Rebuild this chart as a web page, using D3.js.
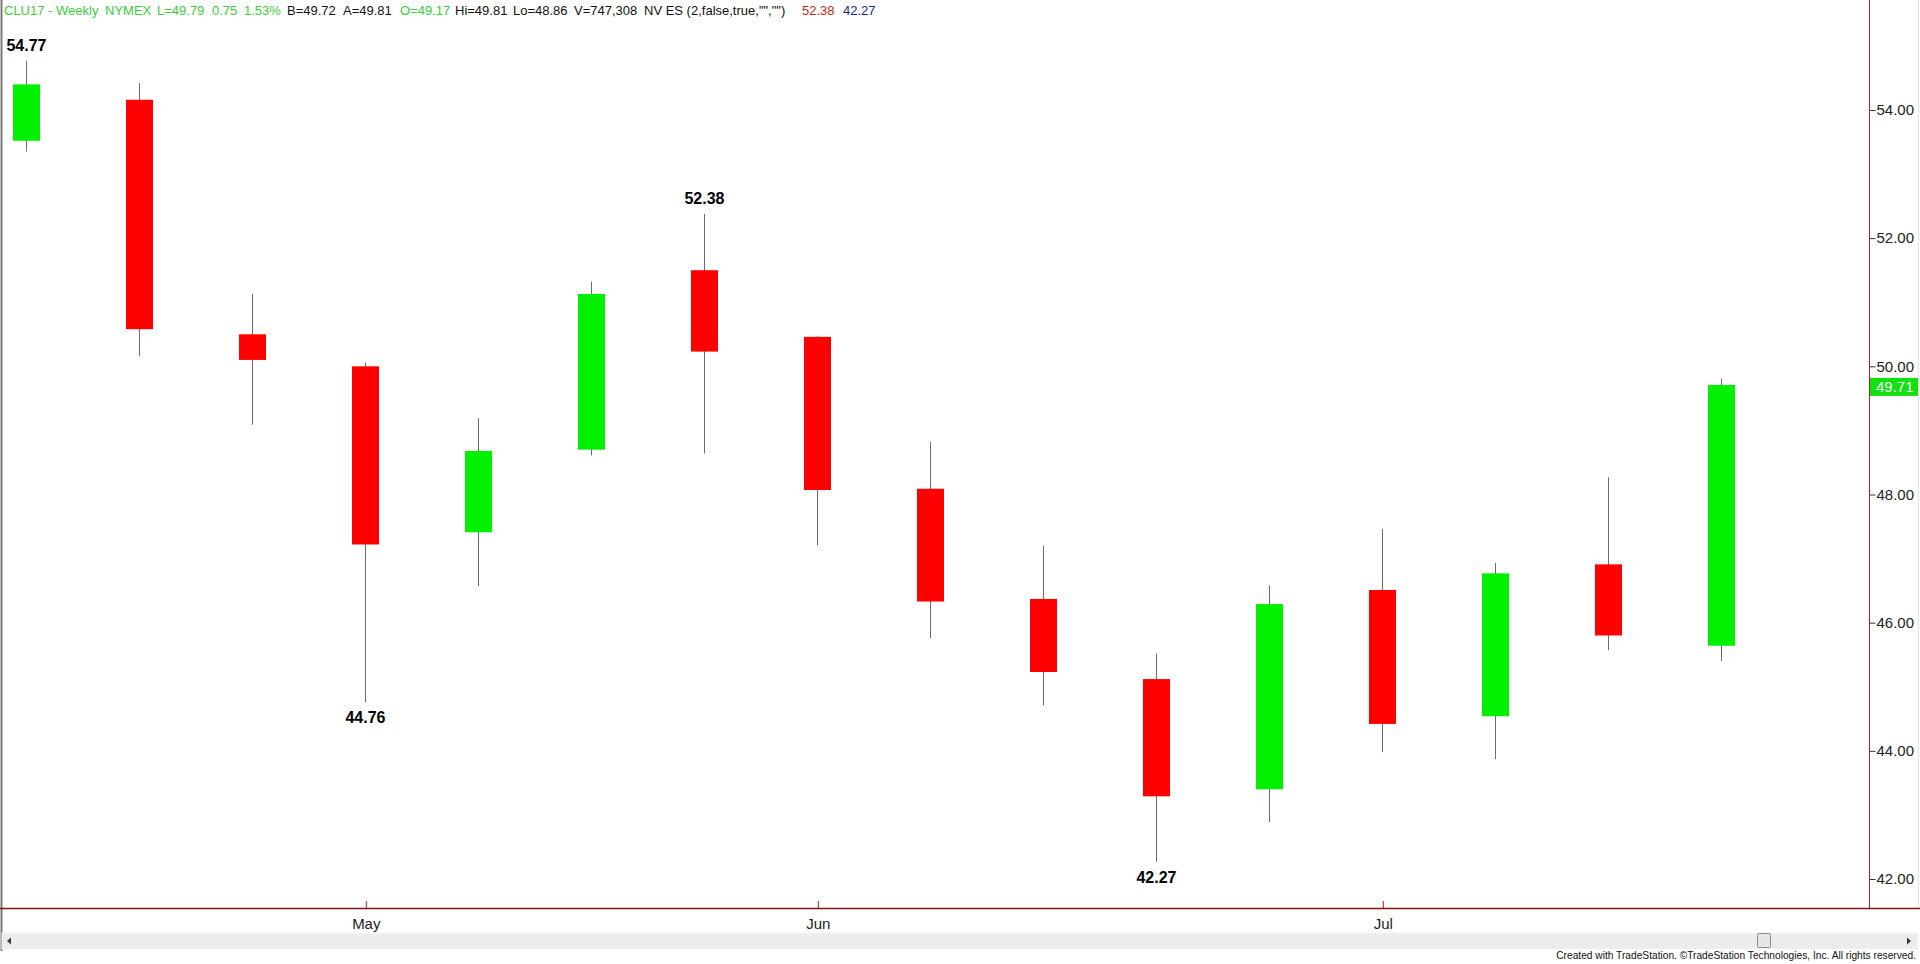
<!DOCTYPE html>
<html>
<head>
<meta charset="utf-8">
<script src="https://cdn.jsdelivr.net/npm/d3@7"></script>
<style>
  html, body { margin: 0; padding: 0; background: #ffffff; overflow: hidden; }
  svg { display: block; font-family: Arial, "Liberation Sans", sans-serif; }
</style>
</head>
<body>
<svg id="chart" width="1920" height="964"></svg>
<script>
// ---- Data (weekly bars, dated by the Friday that closes each week) ----
const dates  = ["2017-04-14","2017-04-21","2017-04-28","2017-05-05","2017-05-12","2017-05-19","2017-05-26","2017-06-02",
                "2017-06-09","2017-06-16","2017-06-23","2017-06-30","2017-07-07","2017-07-14","2017-07-21","2017-07-28"];
const opens  = [53.52, 54.16, 50.50, 50.00, 47.41, 48.70, 51.50, 50.46, 48.09, 46.37, 45.12, 43.40, 46.51, 44.54, 46.91, 45.64];
const highs  = [54.77, 54.42, 51.13, 50.06, 49.19, 51.32, 52.38, 50.47, 48.82, 47.20, 45.52, 46.58, 47.46, 46.93, 48.27, 49.81];
const lows   = [53.35, 50.16, 49.09, 44.76, 46.57, 48.61, 48.64, 47.21, 45.76, 44.71, 42.27, 42.89, 43.98, 43.87, 45.57, 45.40];
const closes = [54.40, 50.58, 50.10, 47.22, 48.68, 51.13, 50.23, 48.07, 46.33, 45.23, 43.29, 46.29, 44.42, 46.77, 45.80, 49.71];

const priceTicks = [42, 44, 46, 48, 50, 52, 54];
const swingLabels = [ {index: 0, side: "high"}, {index: 3, side: "low"}, {index: 6, side: "high"}, {index: 10, side: "low"} ];

const headerSegments = [
  {text: "CLU17 - Weekly", color: "#3ccc3c", x: 4},
  {text: "NYMEX", color: "#3ccc3c", x: 105},
  {text: "L=49.79", color: "#3ccc3c", x: 157},
  {text: "0.75", color: "#3ccc3c", x: 212},
  {text: "1.53%", color: "#3ccc3c", x: 244},
  {text: "B=49.72", color: "#111111", x: 287},
  {text: "A=49.81", color: "#111111", x: 343},
  {text: "O=49.17", color: "#3ccc3c", x: 400},
  {text: "Hi=49.81", color: "#111111", x: 455},
  {text: "Lo=48.86", color: "#111111", x: 513},
  {text: "V=747,308", color: "#111111", x: 574},
  {text: "NV ES (2,false,true,\"\",\"\")", color: "#111111", x: 644},
  {text: "52.38", color: "#c81e1e", x: 802},
  {text: "42.27", color: "#1c1c90", x: 843}
];
const footerText = "Created with TradeStation. \u00A9TradeStation Technologies, Inc. All rights reserved.";

// ---- Build records ----
const parse = d3.timeParse("%Y-%m-%d");
const bars = dates.map((d, i) => ({ date: parse(d), open: opens[i], high: highs[i], low: lows[i], close: closes[i] }));

// ---- Layout ----
const W = 1920, H = 964;
const axisX = 1869;        // right price axis line
const plotBottom = 908;    // time axis line
const bodyW = 27;

const svg = d3.select("#chart");

const x = d3.scaleTime()
  .domain([bars[0].date, bars[bars.length - 1].date])
  .range([26.3, 1721.3]);

const y = d3.scaleLinear()
  .domain([42, 54])
  .range([879, 110]);

// left border
svg.append("line").attr("x1", 1.5).attr("x2", 1.5).attr("y1", 0).attr("y2", 951)
  .attr("stroke", "#7a7a7a").attr("stroke-width", 2);
// right window border
svg.append("line").attr("x1", 1918.5).attr("x2", 1918.5).attr("y1", 0).attr("y2", 908)
  .attr("stroke", "#e2e2e2").attr("stroke-width", 1);

// ---- Header ----
const header = svg.append("text").attr("y", 15).attr("font-size", 13);
headerSegments.forEach(s => {
  header.append("tspan").attr("x", s.x).attr("fill", s.color).text(s.text);
});

// ---- Candles ----
const candles = svg.append("g").attr("class", "candles");
const cg = candles.selectAll("g").data(bars).join("g");
cg.append("line")
  .attr("x1", d => Math.round(x(d.date)) + 0.5)
  .attr("x2", d => Math.round(x(d.date)) + 0.5)
  .attr("y1", d => y(d.high))
  .attr("y2", d => y(d.low))
  .attr("stroke", "#6a6a6a").attr("stroke-width", 1);
cg.append("rect")
  .attr("x", d => Math.round(x(d.date)) + 0.5 - bodyW / 2)
  .attr("width", bodyW)
  .attr("y", d => y(Math.max(d.open, d.close)))
  .attr("height", d => Math.max(1, Math.abs(y(d.open) - y(d.close))))
  .attr("fill", d => d.close >= d.open ? "#00f000" : "#ff0000");

// ---- Swing labels ----
svg.append("g").selectAll("text").data(swingLabels).join("text")
  .attr("x", d => Math.round(x(bars[d.index].date)) + 0.5)
  .attr("y", d => d.side === "high" ? y(bars[d.index].high) - 10 : y(bars[d.index].low) + 21)
  .attr("text-anchor", "middle")
  .attr("font-size", 16).attr("font-weight", "bold").attr("fill", "#000")
  .text(d => d3.format(".2f")(d.side === "high" ? bars[d.index].high : bars[d.index].low));

// ---- Price axis (right) ----
const yAxis = d3.axisRight(y).tickValues(priceTicks).tickFormat(d3.format(".2f")).tickSize(6).tickPadding(1);
const ya = svg.append("g").attr("transform", `translate(${axisX + 0.5},0)`).call(yAxis);
ya.select(".domain").remove();
ya.selectAll(".tick line").attr("stroke", "#333");
ya.selectAll(".tick text").attr("font-size", 15).attr("fill", "#222").attr("font-family", "Arial, 'Liberation Sans', sans-serif");
svg.append("line").attr("x1", axisX + 0.5).attr("x2", axisX + 0.5).attr("y1", 0).attr("y2", plotBottom)
  .attr("stroke", "#c41a1a").attr("stroke-width", 1);

// last price marker
const last = bars[bars.length - 1];
const ly = y(last.close) + 2;
svg.append("rect").attr("x", axisX + 1).attr("y", ly - 9).attr("width", W - axisX - 3).attr("height", 18)
  .attr("fill", "#11e011");
svg.append("text").attr("x", axisX + 7).attr("y", ly + 5.5).attr("font-size", 15).attr("fill", "#ffffff")
  .text(d3.format(".2f")(last.close));

// ---- Time axis (bottom) ----
const monthTicks = bars.filter((b, i) => i > 0 && b.date.getMonth() !== bars[i - 1].date.getMonth()).map(b => b.date);
const xAxis = d3.axisBottom(x).tickValues(monthTicks).tickFormat(d3.timeFormat("%b")).tickSizeInner(-7).tickSizeOuter(0).tickPadding(10);
const xa = svg.append("g").attr("transform", `translate(0.5,${plotBottom})`).call(xAxis);
xa.select(".domain").remove();
xa.selectAll(".tick line").attr("stroke", "#c41a1a");
xa.selectAll(".tick text").attr("font-size", 15).attr("fill", "#222").attr("font-family", "Arial, 'Liberation Sans', sans-serif");
svg.append("line").attr("x1", 0).attr("x2", W).attr("y1", plotBottom + 0.5).attr("y2", plotBottom + 0.5)
  .attr("stroke", "#7e1414").attr("stroke-width", 1.5);

// ---- Scrollbar ----
svg.append("rect").attr("x", 2).attr("y", 933).attr("width", W - 4).attr("height", 16)
  .attr("fill", "#ececec").attr("stroke", "#f4f4f4");
svg.append("path").attr("d", "M11,937.5 L7,941 L11,944.5 Z").attr("fill", "#333");
svg.append("path").attr("d", "M1907,937.5 L1911,941 L1907,944.5 Z").attr("fill", "#333");
svg.append("rect").attr("x", 1757.5).attr("y", 933.5).attr("width", 13).attr("height", 14)
  .attr("fill", "#e6e6e6").attr("stroke", "#8a8a8a").attr("rx", 1);

// ---- Footer ----
svg.append("text").attr("x", 1916).attr("y", 959).attr("text-anchor", "end")
  .attr("font-size", 10.2).attr("fill", "#111")
  .text(footerText);
</script>
</body>
</html>
